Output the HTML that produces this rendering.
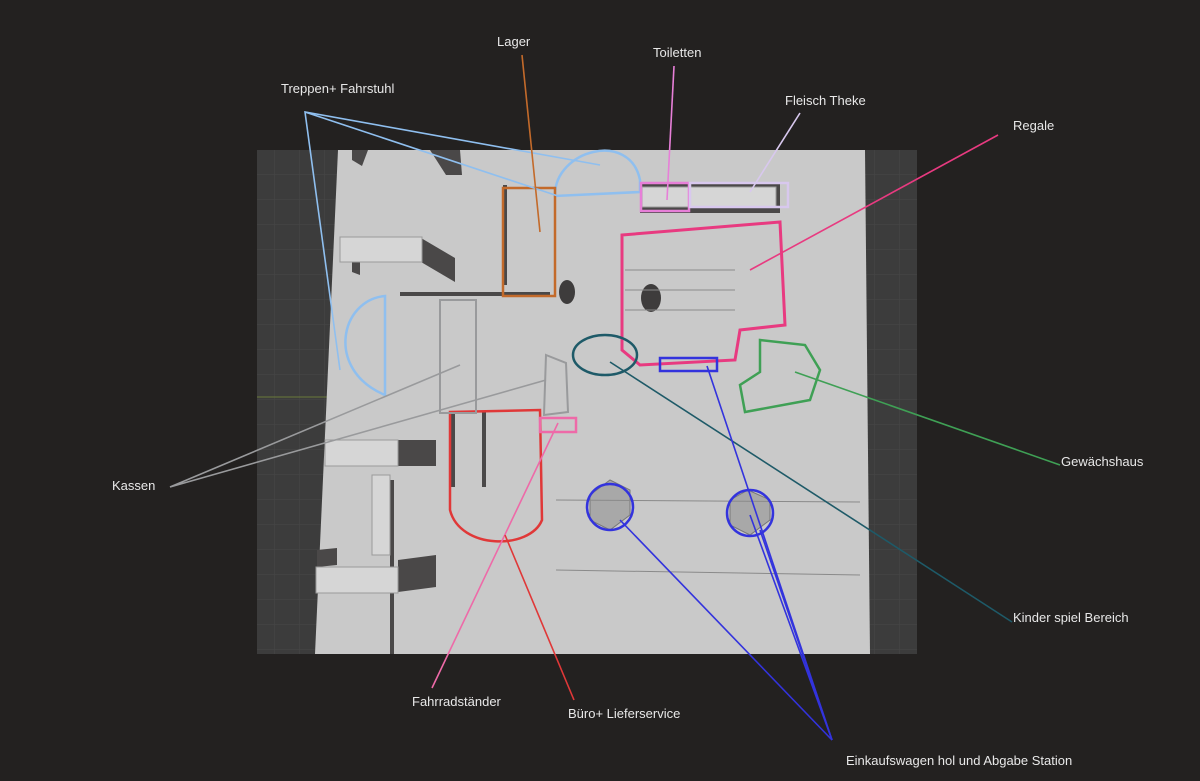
<!DOCTYPE html>
<html><head><meta charset="utf-8"><style>
html,body{margin:0;padding:0;background:#232120;}
svg{display:block}
text{font-family:"Liberation Sans",sans-serif;font-size:13px;fill:#e8e8e8}
</style></head><body>
<svg width="1200" height="781" viewBox="0 0 1200 781" xmlns="http://www.w3.org/2000/svg">
<rect width="1200" height="781" fill="#232120"/>
<defs><pattern id="g" width="25" height="25" patternUnits="userSpaceOnUse"><rect width="25" height="25" fill="#3c3c3c"/><path d="M25 0V25H0" fill="none" stroke="#474747" stroke-width="1"/></pattern></defs>
<rect x="257" y="150" width="660" height="504" fill="url(#g)"/>
<line x1="257" y1="397" x2="330" y2="397" stroke="#6a7a3a" stroke-width="1"/>
<polygon points="338,150 865,150 870,654 315,654" fill="#c9c9c9"/>
<!-- dark structures -->
<g fill="#4a4848">
<polygon points="352,150 368,150 362,166 352,160"/>
<polygon points="430,150 460,150 462,175 446,175"/>
<polygon points="421,238 455,258 455,282 421,262"/>
<polygon points="352,262 360,262 360,275 352,272"/>
<rect x="400" y="292" width="150" height="4"/>
<rect x="503" y="185" width="4" height="100"/>
<rect x="640" y="183" width="140" height="30"/>
<polygon points="398,440 436,440 436,466 398,466"/>
<polygon points="398,560 436,555 436,587 398,592"/>
<polygon points="317,550 337,548 337,565 317,567"/>
<rect x="449" y="412" width="6" height="75"/>
<rect x="482" y="412" width="4" height="75"/>
<rect x="390" y="480" width="4" height="174"/>
</g>
<g fill="#d6d6d6" stroke="#9a9a9a" stroke-width="1">
<rect x="340" y="237" width="82" height="25"/>
<rect x="325" y="440" width="73" height="26"/>
<rect x="316" y="567" width="82" height="26"/>
<rect x="372" y="475" width="18" height="80"/>
<rect x="642" y="187" width="134" height="20"/>
</g>
<ellipse cx="651" cy="298" rx="10" ry="14" fill="#3e3c3c"/>
<ellipse cx="567" cy="292" rx="8" ry="12" fill="#3e3c3c"/>
<polygon points="610,480 630,490 630,515 610,530 590,520 590,495" fill="#a8a8a8" stroke="#777"/>
<polygon points="748,490 770,500 770,520 750,535 730,525 730,500" fill="#a8a8a8" stroke="#777"/>
<g stroke="#8a8a8a" fill="none" stroke-width="1">
<line x1="556" y1="500" x2="860" y2="502"/><line x1="556" y1="570" x2="860" y2="575"/>
<line x1="625" y1="270" x2="735" y2="270"/><line x1="625" y1="290" x2="735" y2="290"/><line x1="625" y1="310" x2="735" y2="310"/>
</g>
<!-- annotation shapes -->
<g fill="none" stroke-width="2.5" stroke-linecap="round">
<path d="M555,195 C555,150 630,130 640,180 L640,192 L555,196Z" stroke="#8fbfef"/>
<path d="M385,296 C340,300 325,370 385,395 Z" stroke="#8fbfef"/>
<rect x="503" y="188" width="52" height="108" stroke="#c36a2a"/>
<rect x="641" y="183" width="48" height="28" stroke="#e77fd8"/>
<rect x="690" y="183" width="98" height="24" stroke="#d8c8ee"/>
<path d="M622,235 L780,222 L785,325 L740,330 L735,360 L640,365 L622,350 Z" stroke="#e83a80" stroke-width="3"/>
<path d="M760,340 L805,345 L820,370 L810,400 L745,412 L740,385 L760,372 Z" stroke="#3fa055"/>
<ellipse cx="605" cy="355" rx="32" ry="20" stroke="#1e5a68"/>
<rect x="660" y="358" width="57" height="13" stroke="#3333dd"/>
<path d="M450,412 L540,410 L542,520 C530,550 460,550 450,510 Z" stroke="#e03838"/>
<rect x="540" y="418" width="36" height="14" stroke="#ee6aa8"/>
<circle cx="610" cy="507" r="23" stroke="#3333dd"/>
<circle cx="750" cy="513" r="23" stroke="#3333dd"/>
<rect x="440" y="300" width="36" height="113" stroke="#999a9c" stroke-width="2"/>
<polygon points="546,355 566,363 568,412 544,415" stroke="#999a9c" stroke-width="2"/>
</g>
<!-- connectors -->
<g stroke-width="1.6" fill="none">
<polyline points="340,370 305,112 600,165" stroke="#8fbfef"/>
<line x1="305" y1="112" x2="558" y2="196" stroke="#8fbfef"/>
<line x1="522" y1="55" x2="540" y2="232" stroke="#c36a2a"/>
<line x1="674" y1="66" x2="667" y2="200" stroke="#e77fd8"/>
<line x1="800" y1="113" x2="750" y2="192" stroke="#d8c8ee"/>
<line x1="998" y1="135" x2="750" y2="270" stroke="#e83a80"/>
<line x1="1060" y1="465" x2="795" y2="372" stroke="#3fa055"/>
<line x1="1012" y1="622" x2="610" y2="362" stroke="#1e5a68"/>
<polyline points="460,365 170,487 546,380" stroke="#999a9c"/>
<line x1="432" y1="688" x2="558" y2="423" stroke="#ee6aa8"/>
<line x1="574" y1="700" x2="505" y2="535" stroke="#e03838"/>
<line x1="832" y1="740" x2="707" y2="366" stroke="#3333dd"/>
<line x1="832" y1="740" x2="620" y2="520" stroke="#3333dd"/>
<line x1="832" y1="740" x2="750" y2="515" stroke="#3333dd"/>
<line x1="832" y1="740" x2="760" y2="530" stroke="#3333dd"/>
</g>
<text x="497" y="46">Lager</text>
<text x="653" y="57">Toiletten</text>
<text x="281" y="93">Treppen+ Fahrstuhl</text>
<text x="785" y="105">Fleisch Theke</text>
<text x="1013" y="130">Regale</text>
<text x="1061" y="466">Gewächshaus</text>
<text x="112" y="490">Kassen</text>
<text x="1013" y="622">Kinder spiel Bereich</text>
<text x="412" y="706">Fahrradständer</text>
<text x="568" y="718">Büro+ Lieferservice</text>
<text x="846" y="765">Einkaufswagen hol und Abgabe Station</text>
</svg>
</body></html>
